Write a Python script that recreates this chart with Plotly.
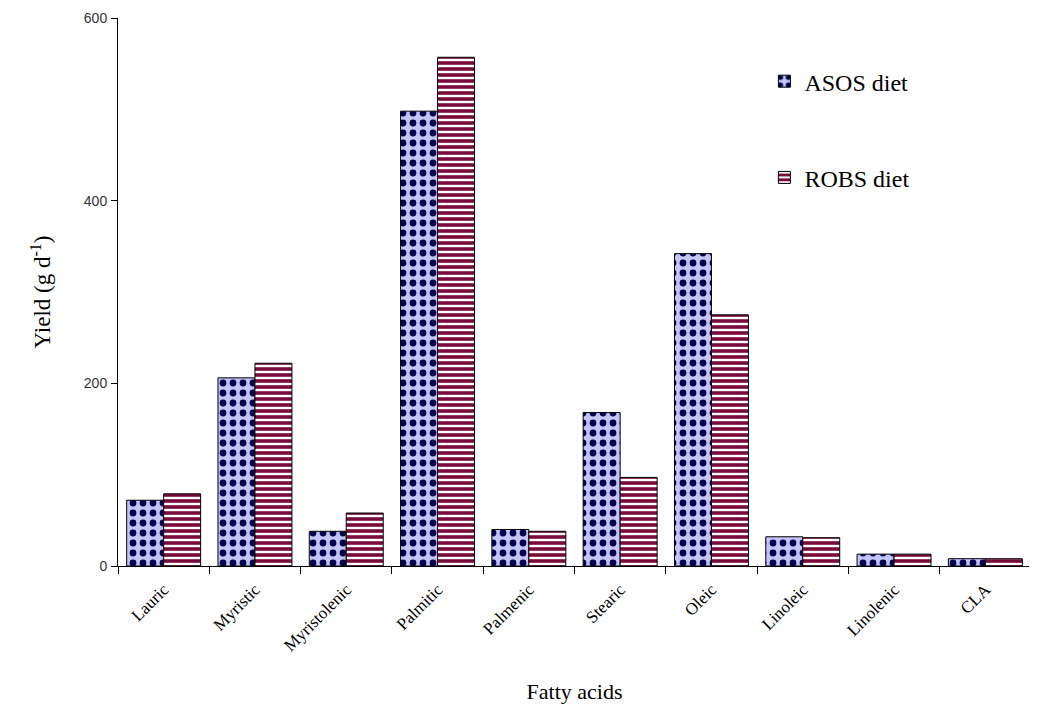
import plotly.graph_objects as go

categories = ["Lauric", "Myristic", "Myristolenic", "Palmitic", "Palmenic",
              "Stearic", "Oleic", "Linoleic", "Linolenic", "CLA"]
asos = [72, 206, 38, 498, 40, 168, 342, 32, 13, 8]
robs = [79, 222, 58, 557, 38, 97, 275, 31, 13, 8]
y_ticks = [0, 200, 400, 600]

serif = "Liberation Serif, Times New Roman, serif"

fig = go.Figure()
fig.add_trace(go.Bar(
    x=categories, y=asos, name="ASOS diet", legendgroup="a",
    marker=dict(color="#c4c4fa", line=dict(color="#000000", width=1),
                pattern=dict(shape=".", fgcolor="#00004f", bgcolor="#c4c4fa",
                             size=10, solidity=0.36, fillmode="replace")),
))
fig.add_trace(go.Bar(
    x=categories, y=robs, name="ROBS diet", legendgroup="b",
    marker=dict(color="#ffffff", line=dict(color="#000000", width=1),
                pattern=dict(shape="-", fgcolor="#7a0a3c", bgcolor="#ffffff",
                             size=6, solidity=0.6, fillmode="replace")),
))

fig.update_layout(
    width=1029, height=696,
    paper_bgcolor="white", plot_bgcolor="white",
    margin=dict(l=110, r=6, t=10, b=138, autoexpand=False),
    barmode="group", bargap=0.19, bargroupgap=0,
    font=dict(family=serif, color="#000000"),
    legend=dict(x=0.708, y=0.925, xanchor="left", yanchor="top",
                font=dict(family=serif, size=24), tracegroupgap=62,
                bgcolor="rgba(0,0,0,0)"),
    xaxis=dict(
        automargin=False,
        showline=True, linecolor="#000000", linewidth=1,
        ticks="outside", tickson="boundaries", ticklen=7, tickcolor="#000000",
        ticklabelstandoff=6,
        tickangle=-45, tickfont=dict(family=serif, size=17),
        title=dict(text="Fatty acids", font=dict(family=serif, size=22), standoff=36),
        showgrid=False,
    ),
    yaxis=dict(
        automargin=False,
        range=[0, 600], tickvals=y_ticks,
        showline=True, linecolor="#000000", linewidth=1,
        ticks="outside", ticklen=6, tickcolor="#000000", ticklabelstandoff=1,
        tickfont=dict(family="Liberation Sans, Arial, sans-serif", size=14, color="#333333"),
        title=dict(text="Yield (g d<sup>-1</sup>)", font=dict(family=serif, size=23), standoff=26),
        showgrid=False, zeroline=False,
    ),
)

fig.write_html("out.html")
